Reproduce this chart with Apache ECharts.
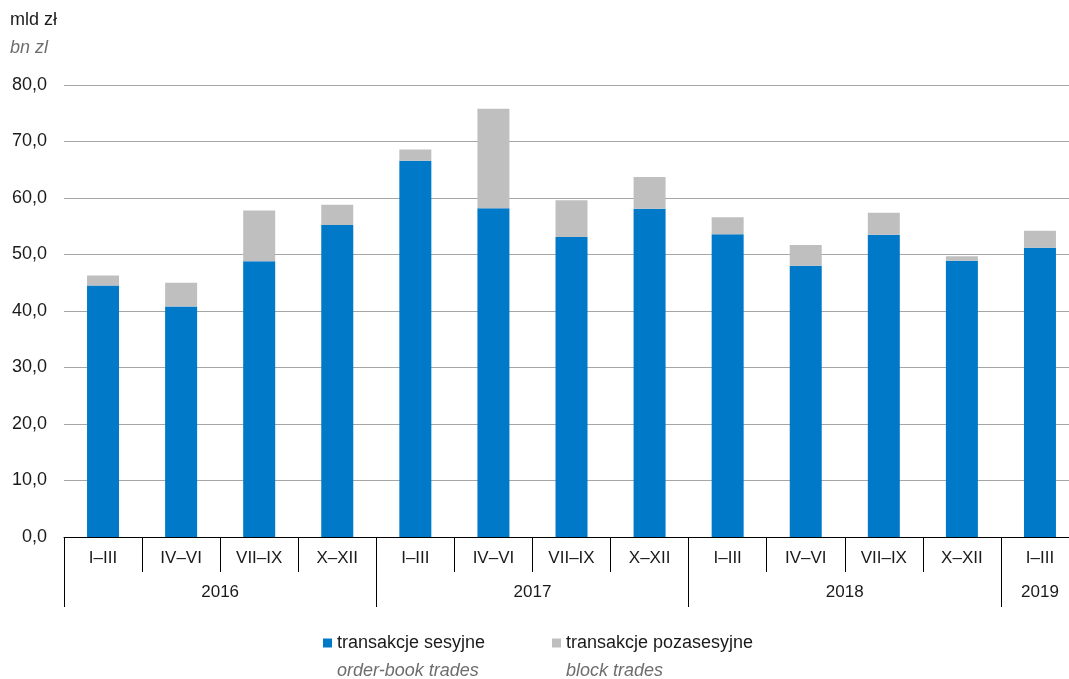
<!DOCTYPE html>
<html>
<head>
    <meta charset="utf-8">
    <title>Obroty akcjami</title>
    <style>
        html, body { margin: 0; padding: 0; background: #fff; }
        #charts { width: 1069px; height: 679px; }
    </style>
</head>
<body>
<div id="charts"></div>

<script src="https://cdn.jsdelivr.net/npm/echarts@6/dist/echarts.min.js"></script>
<script>
    // dane
    var kwartaly = ['I–III', 'IV–VI', 'VII–IX', 'X–XII', 'I–III', 'IV–VI', 'VII–IX', 'X–XII',
        'I–III', 'IV–VI', 'VII–IX', 'X–XII', 'I–III'];
    var lata = ['2016', '2017', '2018', '2019'];
    var sesyjne = [44.5, 40.8, 48.8, 55.2, 66.6, 58.2, 53.1, 58.1, 53.6, 48.0, 53.5, 48.9, 51.2];
    var pozasesyjne = [1.8, 4.2, 9.0, 3.6, 2.0, 17.6, 6.5, 5.6, 3.0, 3.7, 3.9, 0.8, 3.0];
    var nazwy = ['transakcje sesyjne', 'transakcje pozasesyjne'];
    var nazwyEn = ['order-book trades', 'block trades'];

    var font = "'Liberation Sans', sans-serif";

    // druga oś: punkty co pół kwartału, lata na środku grup
    var polowki = [];
    for (var i = 0; i <= kwartaly.length * 2; i++) {
        polowki.push('');
    }
    var rokPoz = {4: lata[0], 12: lata[1], 20: lata[2], 25: lata[3]};
    var granice = {0: 1, 8: 1, 16: 1, 24: 1};

    // legenda: jedna pozycja na blok, polski u góry, angielski kursywą pod spodem
    var legendaX = [323, 552];
    var legendy = [];
    nazwy.forEach(function (n, k) {
        legendy.push({
            left: legendaX[k],
            top: 634,
            padding: 0,
            itemWidth: 9,
            itemHeight: 9,
            itemGap: 0,
            icon: 'rect',
            data: [n],
            textStyle: { fontFamily: font, fontSize: 18, color: '#1a1a1a', padding: [0, 0, 0, 0] }
        });
        legendy.push({
            left: legendaX[k],
            top: 662,
            padding: 0,
            itemWidth: 9,
            itemHeight: 9,
            itemGap: 0,
            icon: 'none',
            selectedMode: false,
            data: [n],
            formatter: function () { return nazwyEn[k]; },
            textStyle: { fontFamily: font, fontSize: 18, color: '#6d6d6d', fontStyle: 'italic' }
        });
    });

    var myChart = echarts.init(document.getElementById('charts'));

    var option = {
        animation: false,
        textStyle: { fontFamily: font },
        title: {
            left: 5,
            top: 2,
            text: '{a|mld zł}\n{b|bn zl}',
            textStyle: {
                fontWeight: 'normal',
                rich: {
                    a: { fontFamily: font, fontSize: 18, fontWeight: 'normal', color: '#1a1a1a', lineHeight: 27 },
                    b: { fontFamily: font, fontSize: 18, fontWeight: 'normal', color: '#6d6d6d', fontStyle: 'italic', lineHeight: 27 }
                }
            }
        },
        legend: legendy,
        grid: {
            left: 64,
            width: 1015,
            top: 85,
            bottom: 142,
            outerBoundsMode: 'none'
        },
        xAxis: [{
            type: 'category',
            data: kwartaly,
            axisLine: { lineStyle: { color: '#000', width: 1 } },
            axisTick: { show: true, interval: 0, length: 35, lineStyle: { color: '#000' } },
            axisLabel: { interval: 0, margin: 13, fontFamily: font, fontSize: 17, color: '#1a1a1a' }
        }, {
            type: 'category',
            position: 'bottom',
            boundaryGap: false,
            data: polowki,
            axisLine: { show: false },
            axisTick: {
                show: true,
                length: 70,
                interval: function (index) { return !!granice[index]; },
                lineStyle: { color: '#000' }
            },
            axisLabel: {
                margin: 47,
                fontFamily: font,
                fontSize: 17,
                color: '#1a1a1a',
                interval: function (index) { return rokPoz[index] !== undefined; },
                formatter: function (v, index) { return rokPoz[index] || ''; }
            }
        }],
        yAxis: {
            type: 'value',
            min: 0,
            max: 80,
            interval: 10,
            axisLine: { show: false },
            axisTick: { show: false },
            splitLine: { lineStyle: { color: '#a6a6a6', width: 1 } },
            axisLabel: {
                margin: 17,
                fontFamily: font,
                fontSize: 18,
                color: '#1a1a1a',
                formatter: function (v) { return v.toFixed(1).replace('.', ','); }
            }
        },
        series: [
            {
                name: nazwy[0],
                type: 'bar',
                stack: 'obroty',
                barWidth: 32,
                itemStyle: { color: '#0079c9' },
                data: sesyjne
            },
            {
                name: nazwy[1],
                type: 'bar',
                stack: 'obroty',
                barWidth: 32,
                itemStyle: { color: '#bfbfbf' },
                data: pozasesyjne
            }
        ]
    };
    myChart.setOption(option);
</script>
</body>
</html>
